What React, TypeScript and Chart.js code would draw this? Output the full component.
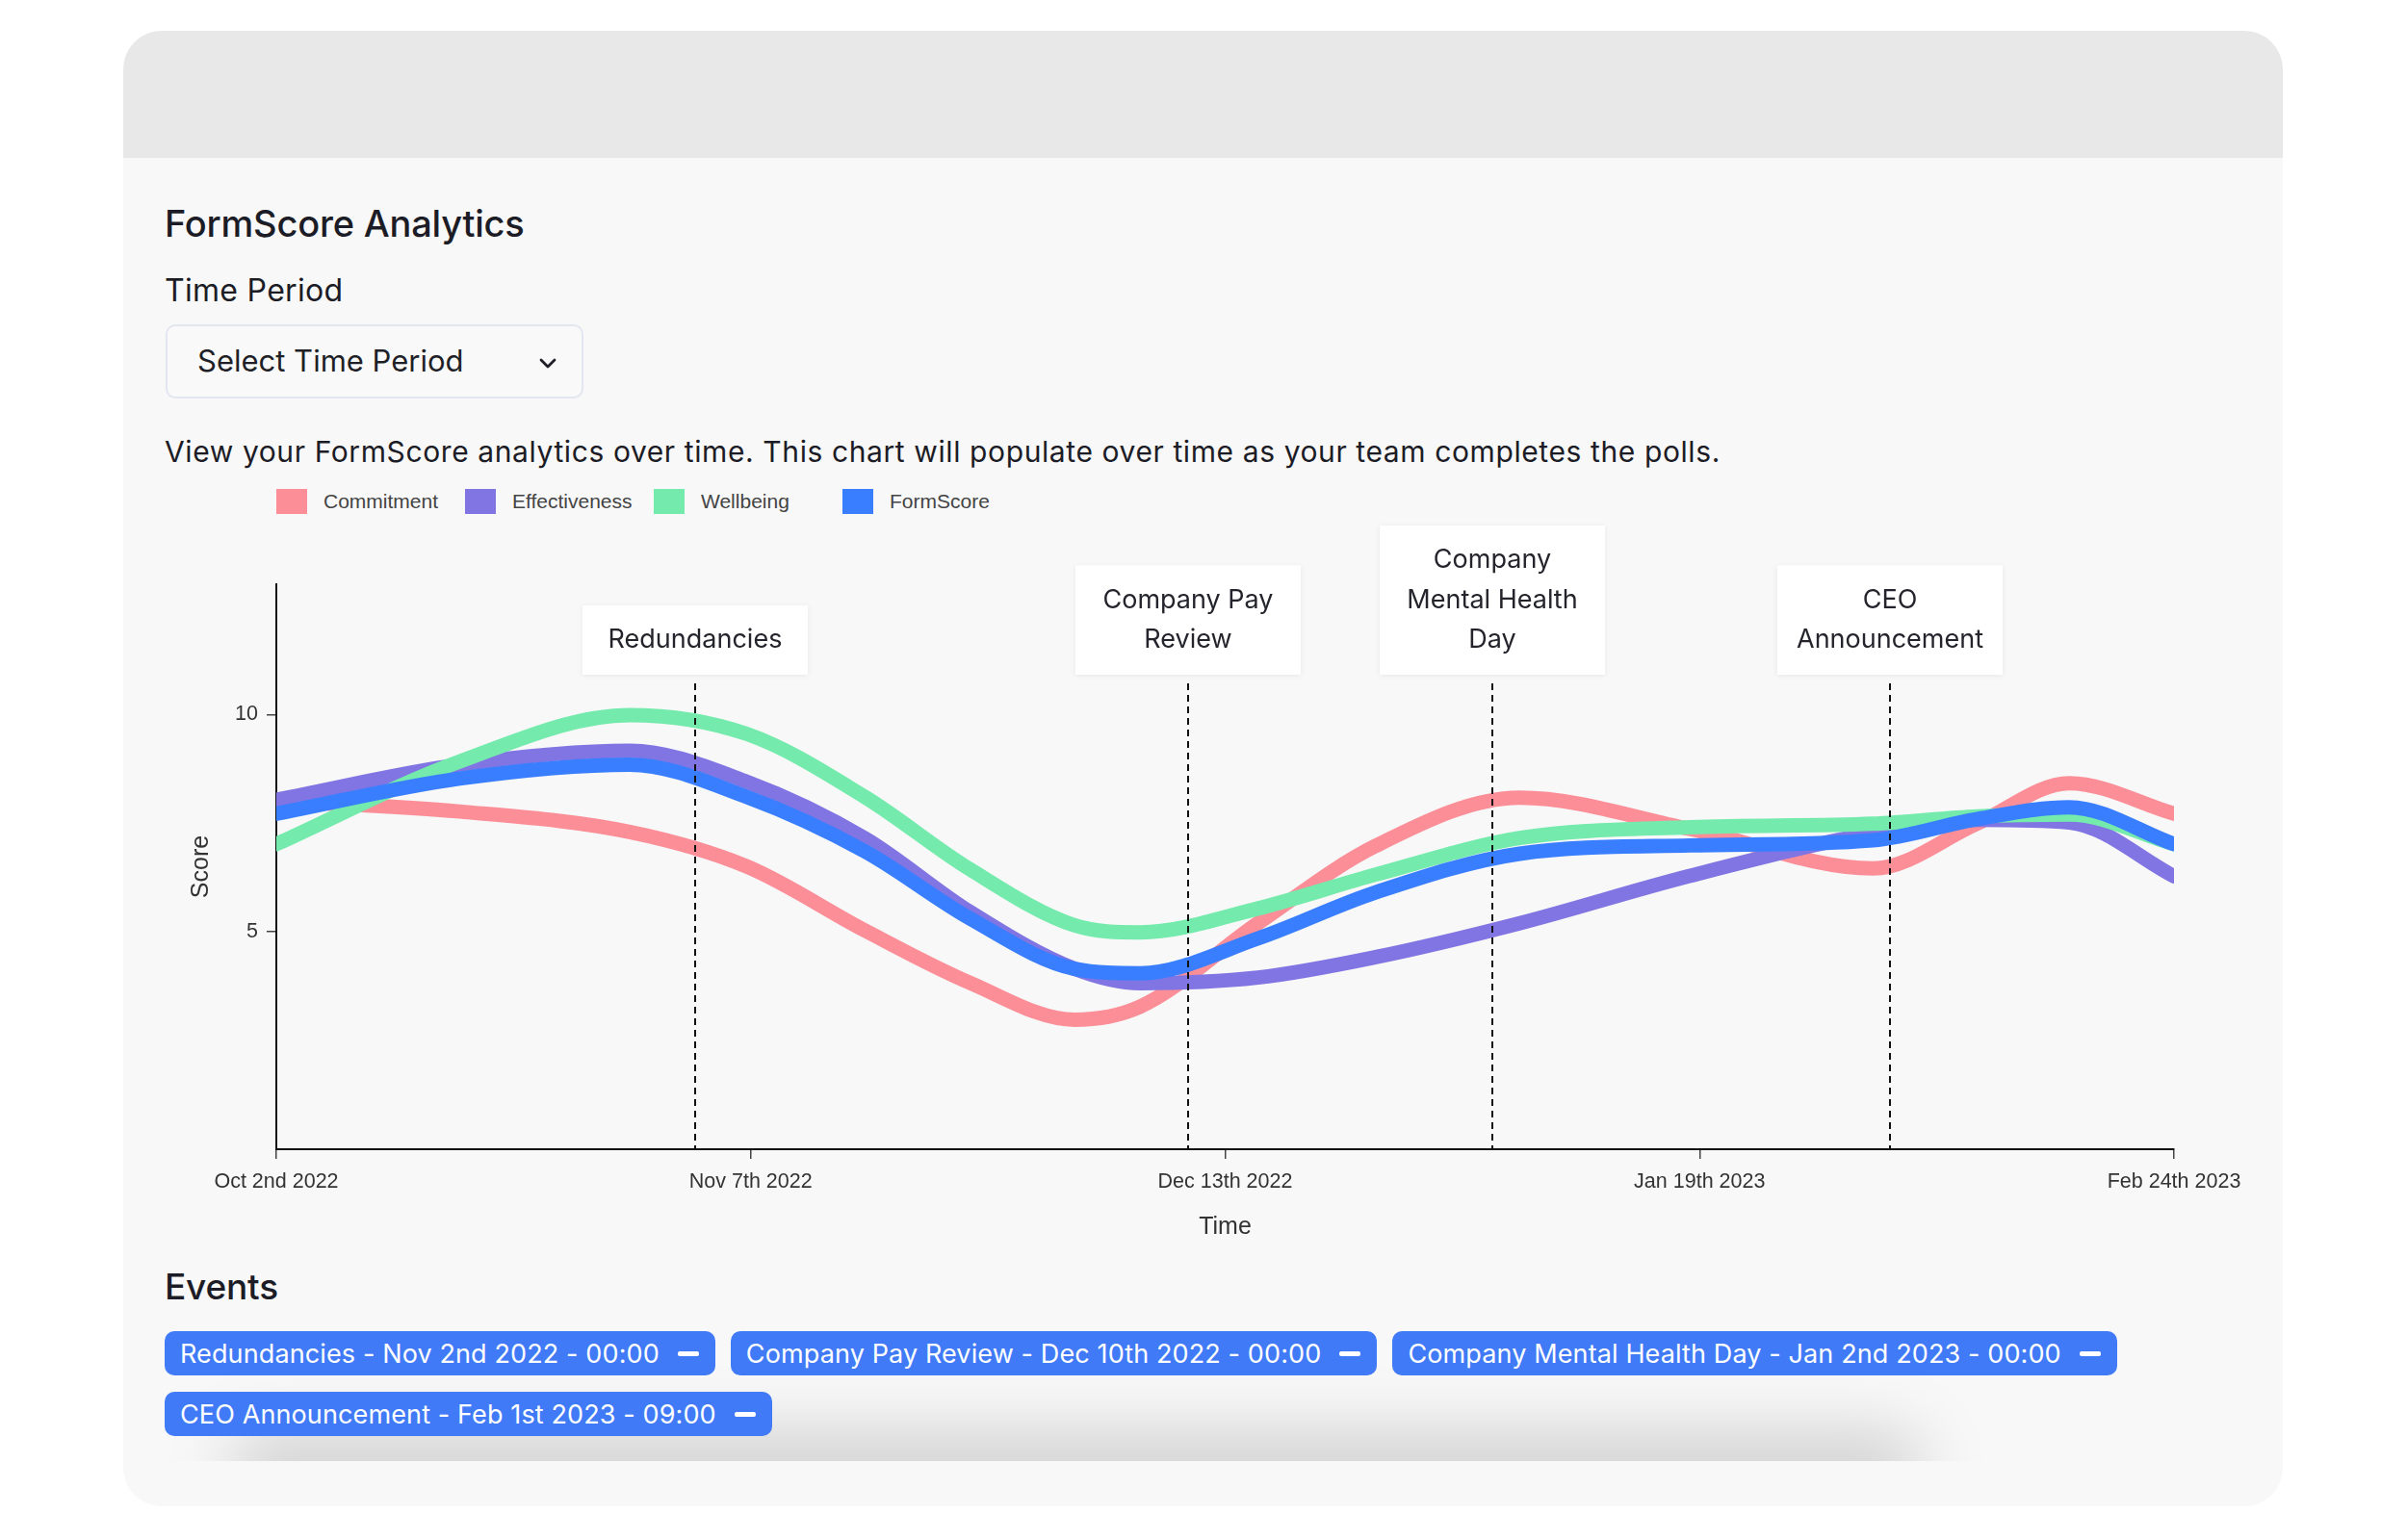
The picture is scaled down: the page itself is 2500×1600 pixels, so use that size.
import React, { useEffect, useRef } from 'react';
import { Chart, registerables } from 'chart.js';

Chart.register(...registerables);

// ---------- data ----------
const seriesNames = ['Commitment', 'Effectiveness', 'Wellbeing', 'FormScore'];
const seriesColors = ['#FC8E98', '#8075E2', '#74EBAC', '#397EFF'];

// days since Oct 2nd 2022
const sampleDays = [0, 14, 27, 36, 45, 53, 61, 66, 75, 84, 95, 108, 122, 130, 137, 145];
const commitmentScores = [8.02, 7.77, 7.3, 6.5, 5.03, 3.83, 2.98, 3.28, 5.2, 6.98, 8.09, 7.37, 6.46, 7.5, 8.42, 7.72];
const effectivenessScores = [8.04, 8.85, 9.17, 8.45, 7.15, 5.46, 4.15, 3.82, 3.95, 4.42, 5.2, 6.29, 7.27, 7.58, 7.52, 6.28];
const wellbeingScores = [7.02, 8.92, 9.99, 9.55, 8.1, 6.44, 5.15, 4.99, 5.54, 6.32, 7.16, 7.41, 7.49, 7.66, 7.7, 7.02];
const formScoreScores = [7.72, 8.53, 8.85, 8.1, 6.85, 5.31, 4.15, 4.05, 4.85, 5.91, 6.8, 6.99, 7.11, 7.6, 7.87, 7.02];
const seriesValues = [commitmentScores, effectivenessScores, wellbeingScores, formScoreScores];

const xTickDays = [0, 36.25, 72.5, 108.75, 145];
const xTickLabels = ['Oct 2nd 2022', 'Nov 7th 2022', 'Dec 13th 2022', 'Jan 19th 2023', 'Feb 24th 2023'];
const yTickValues = [5, 10];

const eventNames = ['Redundancies', 'Company Pay Review', 'Company Mental Health Day', 'CEO Announcement'];
const eventLabelLines = [['Redundancies'], ['Company Pay', 'Review'], ['Company', 'Mental Health', 'Day'], ['CEO', 'Announcement']];
const eventDays = [32.0, 69.7, 92.9, 123.3];
const eventTimes = ['Nov 2nd 2022 - 00:00', 'Dec 10th 2022 - 00:00', 'Jan 2nd 2023 - 00:00', 'Feb 1st 2023 - 09:00'];

const CHART_FONT = "'Liberation Sans', Arial, Helvetica, sans-serif";
const UI_FONT = "Inter, 'Noto Sans', sans-serif";

const eventPlugin = {
  id: 'eventMarkers',
  afterDatasetsDraw(chart: any) {
    const { ctx, chartArea, scales } = chart;
    const xs = scales.x;
    ctx.save();
    eventDays.forEach((d, i) => {
      const px = Math.round(xs.getPixelForValue(d));
      ctx.beginPath();
      ctx.setLineDash([7, 5]);
      ctx.lineWidth = 2;
      ctx.strokeStyle = '#111';
      ctx.moveTo(px, chartArea.top + 103);
      ctx.lineTo(px, chartArea.bottom);
      ctx.stroke();

      const lines = eventLabelLines[i];
      const lh = 41.5;
      const boxW = 234;
      const boxH = lines.length * lh + 30.5;
      const bottom = chartArea.top + 94;
      const top = bottom - boxH;
      ctx.setLineDash([]);
      ctx.shadowColor = 'rgba(0,0,0,0.07)';
      ctx.shadowBlur = 6;
      ctx.shadowOffsetY = 1;
      ctx.fillStyle = '#ffffff';
      ctx.fillRect(px - boxW / 2, top, boxW, boxH);
      ctx.shadowColor = 'rgba(0,0,0,0)';
      ctx.shadowBlur = 0;
      ctx.shadowOffsetY = 0;
      ctx.fillStyle = '#24242c';
      ctx.font = '400 27px ' + UI_FONT;
      ctx.textAlign = 'center';
      ctx.textBaseline = 'middle';
      lines.forEach((t, j) => ctx.fillText(t, px, top + 15.25 + lh * (j + 0.5)));
    });
    ctx.restore();
  },
};

function ScoreChart() {
  const ref = useRef<HTMLCanvasElement | null>(null);
  useEffect(() => {
    if (!ref.current) return;
    const chart = new Chart(ref.current, {
      type: 'line',
      data: {
        datasets: seriesNames.map((name, i) => ({
          label: name,
          data: sampleDays.map((d, j) => ({ x: d, y: seriesValues[i][j] })),
          borderColor: seriesColors[i],
          backgroundColor: seriesColors[i],
          borderWidth: 15,
          pointRadius: 0,
          pointHoverRadius: 0,
          borderCapStyle: 'round',
          borderJoinStyle: 'round',
          cubicInterpolationMode: 'monotone',
          fill: false,
          order: seriesNames.length - i,
        })),
      },
      options: {
        animation: false,
        responsive: false,
        devicePixelRatio: 1,
        events: [],
        layout: { padding: { left: 0, top: 67, right: 93, bottom: 0 } },
        plugins: { legend: { display: false }, tooltip: { enabled: false } },
        scales: {
          x: {
            type: 'linear',
            min: 0,
            max: 145,
            afterBuildTicks: (axis: any) => {
              axis.ticks = xTickDays.map((v) => ({ value: v }));
            },
            afterFit: (axis: any) => {
              axis.height = 106;
            },
            ticks: {
              autoSkip: false,
              maxRotation: 0,
              padding: 11,
              color: '#333',
              font: { family: CHART_FONT, size: 21.5 },
              callback: (_v: any, idx: number) => xTickLabels[idx],
            },
            grid: { drawOnChartArea: false, drawTicks: true, tickLength: 10, color: '#444', lineWidth: 1.5 },
            border: { display: true, color: '#111', width: 2 },
            title: {
              display: true,
              text: 'Time',
              color: '#333',
              font: { family: CHART_FONT, size: 25 },
              padding: { top: 0, bottom: 10 },
            },
          },
          y: {
            type: 'linear',
            min: 0,
            max: 13,
            afterBuildTicks: (axis: any) => {
              axis.ticks = yTickValues.map((v) => ({ value: v }));
            },
            afterFit: (axis: any) => {
              axis.width = 116;
            },
            ticks: {
              padding: 9,
              color: '#333',
              font: { family: CHART_FONT, size: 21.5 },
              callback: (v: any) => String(v),
            },
            grid: { drawOnChartArea: false, drawTicks: true, tickLength: 10, color: '#444', lineWidth: 1.5 },
            border: { display: true, color: '#111', width: 2 },
            title: {
              display: true,
              text: 'Score',
              color: '#333',
              font: { family: CHART_FONT, size: 25 },
              padding: { top: 23, bottom: 0 },
            },
          },
        },
      },
      plugins: [eventPlugin],
    } as any);
    return () => chart.destroy();
  }, []);
  return (
    <canvas
      ref={ref}
      width={2180}
      height={760}
      style={{ position: 'absolute', left: 171, top: 540, width: 2180, height: 760, zIndex: 2 }}
    />
  );
}

function Legend() {
  return (
    <div style={{ position: 'absolute', left: 287, top: 505, height: 32, zIndex: 3 }}>
      {seriesNames.map((name, i) => (
        <div
          key={name}
          style={{
            position: 'absolute',
            left: i * 196,
            top: 3,
            display: 'flex',
            alignItems: 'center',
            whiteSpace: 'nowrap',
          }}
        >
          <div style={{ width: 32, height: 26, background: seriesColors[i] }} />
          <span
            style={{
              marginLeft: 17,
              fontFamily: CHART_FONT,
              fontSize: 21,
              color: '#444',
              lineHeight: '26px',
            }}
          >
            {name}
          </span>
        </div>
      ))}
    </div>
  );
}

const headingStyle: React.CSSProperties = {
  position: 'absolute',
  left: 171,
  fontFamily: UI_FONT,
  fontWeight: 500,
  color: '#1c1c26',
  whiteSpace: 'nowrap',
};

export default function App() {
  return (
    <div style={{ position: 'absolute', left: 0, top: 0, width: 2500, height: 1600, background: '#ffffff', overflow: 'hidden' }}>
      {/* card */}
      <div
        style={{
          position: 'absolute',
          left: 128,
          top: 32,
          width: 2243,
          height: 1533,
          borderRadius: 40,
          background: '#f8f8f8',
          overflow: 'hidden',
        }}
      >
        <div style={{ position: 'absolute', left: 0, top: 0, width: '100%', height: 132, background: '#e8e8e8' }} />
      </div>

      {/* bottom shadow */}
      <div style={{ position: 'absolute', left: 128, top: 1300, width: 2243, height: 218, overflow: 'hidden', zIndex: 1 }}>
        <div
          style={{
            position: 'absolute',
            left: 110,
            top: 190,
            width: 1760,
            height: 70,
            borderRadius: 35,
            background: 'rgba(0,0,0,0.17)',
            filter: 'blur(34px)',
          }}
        />
      </div>

      {/* title */}
      <div style={{ ...headingStyle, top: 209, fontSize: 38, lineHeight: '46px', letterSpacing: -0.2 }}>FormScore Analytics</div>

      <div style={{ ...headingStyle, fontWeight: 400, top: 283, fontSize: 32, lineHeight: '38.7px', letterSpacing: 0.3 }}>
        Time Period
      </div>

      {/* select */}
      <div
        style={{
          position: 'absolute',
          left: 172,
          top: 337,
          width: 434,
          height: 77,
          boxSizing: 'border-box',
          border: '2px solid #e2e6ee',
          borderRadius: 10,
          background: '#f9f9f9',
        }}
      >
        <div
          style={{
            position: 'absolute',
            left: 31,
            top: 17,
            fontFamily: UI_FONT,
            fontSize: 31,
            lineHeight: '37.5px',
            color: '#1f1f27',
            whiteSpace: 'nowrap',
          }}
        >
          Select Time Period
        </div>
        <svg style={{ position: 'absolute', left: 385, top: 32 }} width="20" height="14" viewBox="0 0 20 14">
          <polyline points="3,3 10,10 17,3" fill="none" stroke="#1f1f27" strokeWidth="2.8" strokeLinecap="round" strokeLinejoin="round" />
        </svg>
      </div>

      <div style={{ ...headingStyle, fontWeight: 400, top: 451, fontSize: 30, lineHeight: '36.3px', letterSpacing: 0.6 }}>
        View your FormScore analytics over time. This chart will populate over time as your team completes the polls.
      </div>

      <Legend />
      <ScoreChart />

      {/* events */}
      <div style={{ ...headingStyle, top: 1315, fontSize: 37, lineHeight: '44.8px', letterSpacing: -0.2, zIndex: 3 }}>Events</div>
      <div
        style={{
          position: 'absolute',
          left: 171,
          top: 1383,
          width: 2100,
          display: 'flex',
          flexWrap: 'wrap',
          columnGap: 16,
          rowGap: 17,
          zIndex: 3,
        }}
      >
        {eventNames.map((name, i) => (
          <div
            key={name}
            style={{
              height: 46,
              boxSizing: 'border-box',
              display: 'flex',
              alignItems: 'center',
              padding: '0 17px 0 16px',
              background: '#407AF7',
              borderRadius: 10,
              color: '#ffffff',
              fontFamily: UI_FONT,
              fontSize: 27,
              letterSpacing: 0.12,
              whiteSpace: 'nowrap',
            }}
          >
            <span>{name + ' - ' + eventTimes[i]}</span>
            <span style={{ display: 'inline-block', width: 22, height: 5, borderRadius: 2, background: '#ffffff', marginLeft: 19 }} />
          </div>
        ))}
      </div>
    </div>
  );
}
